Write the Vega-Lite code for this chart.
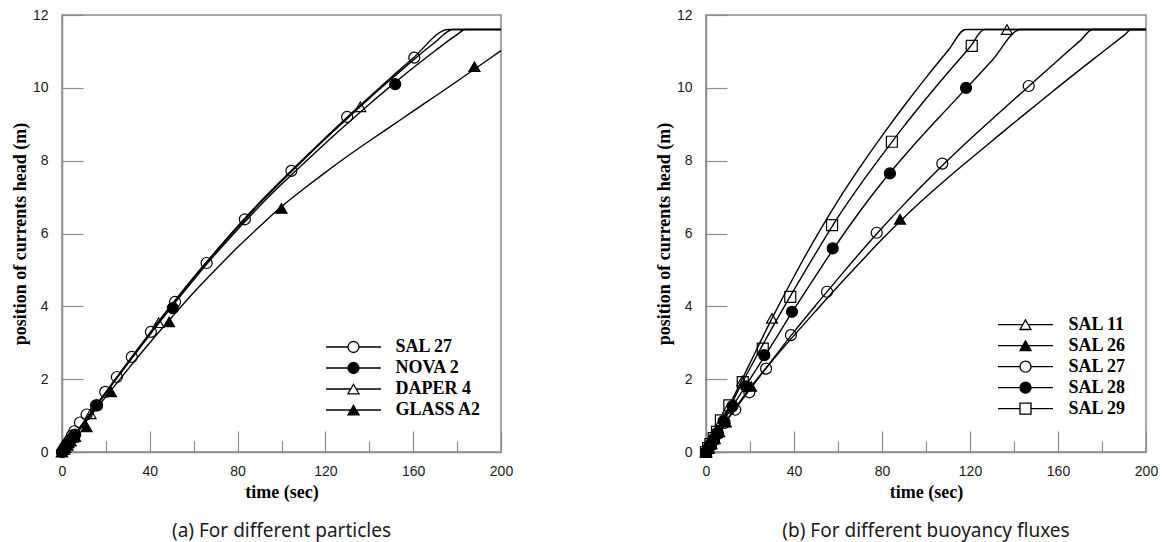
{
  "$schema": "https://vega.github.io/schema/vega-lite/v6.json",
  "background": "white",
  "padding": {"left": 10, "top": 7, "right": 5, "bottom": 0},
  "spacing": 140,
  "datasets": {
    "linesA": [
      {"series": "SAL 27", "t": 0, "y": 0}, {"series": "SAL 27", "t": 10, "y": 0.83}, {"series": "SAL 27", "t": 20, "y": 1.65}, {"series": "SAL 27", "t": 30, "y": 2.47}, {"series": "SAL 27", "t": 40, "y": 3.27}, {"series": "SAL 27", "t": 50, "y": 4.05}, {"series": "SAL 27", "t": 60, "y": 4.8}, {"series": "SAL 27", "t": 70, "y": 5.51}, {"series": "SAL 27", "t": 80, "y": 6.2}, {"series": "SAL 27", "t": 90, "y": 6.85}, {"series": "SAL 27", "t": 100, "y": 7.46}, {"series": "SAL 27", "t": 110, "y": 8.05}, {"series": "SAL 27", "t": 120, "y": 8.63}, {"series": "SAL 27", "t": 130, "y": 9.2}, {"series": "SAL 27", "t": 140, "y": 9.75}, {"series": "SAL 27", "t": 150, "y": 10.29}, {"series": "SAL 27", "t": 160, "y": 10.82}, {"series": "SAL 27", "t": 176, "y": 11.6}, {"series": "SAL 27", "t": 200, "y": 11.6},
      {"series": "DAPER 4", "t": 0, "y": 0}, {"series": "DAPER 4", "t": 10, "y": 0.82}, {"series": "DAPER 4", "t": 20, "y": 1.63}, {"series": "DAPER 4", "t": 30, "y": 2.45}, {"series": "DAPER 4", "t": 40, "y": 3.25}, {"series": "DAPER 4", "t": 50, "y": 4.03}, {"series": "DAPER 4", "t": 60, "y": 4.78}, {"series": "DAPER 4", "t": 70, "y": 5.49}, {"series": "DAPER 4", "t": 80, "y": 6.17}, {"series": "DAPER 4", "t": 90, "y": 6.82}, {"series": "DAPER 4", "t": 100, "y": 7.43}, {"series": "DAPER 4", "t": 110, "y": 8.02}, {"series": "DAPER 4", "t": 120, "y": 8.6}, {"series": "DAPER 4", "t": 130, "y": 9.16}, {"series": "DAPER 4", "t": 140, "y": 9.71}, {"series": "DAPER 4", "t": 150, "y": 10.24}, {"series": "DAPER 4", "t": 160, "y": 10.76}, {"series": "DAPER 4", "t": 170, "y": 11.25}, {"series": "DAPER 4", "t": 178, "y": 11.6}, {"series": "DAPER 4", "t": 200, "y": 11.6},
      {"series": "NOVA 2", "t": 0, "y": 0}, {"series": "NOVA 2", "t": 10, "y": 0.81}, {"series": "NOVA 2", "t": 20, "y": 1.62}, {"series": "NOVA 2", "t": 30, "y": 2.43}, {"series": "NOVA 2", "t": 40, "y": 3.22}, {"series": "NOVA 2", "t": 50, "y": 3.99}, {"series": "NOVA 2", "t": 60, "y": 4.73}, {"series": "NOVA 2", "t": 70, "y": 5.44}, {"series": "NOVA 2", "t": 80, "y": 6.11}, {"series": "NOVA 2", "t": 90, "y": 6.75}, {"series": "NOVA 2", "t": 100, "y": 7.35}, {"series": "NOVA 2", "t": 110, "y": 7.92}, {"series": "NOVA 2", "t": 120, "y": 8.48}, {"series": "NOVA 2", "t": 130, "y": 9.02}, {"series": "NOVA 2", "t": 140, "y": 9.55}, {"series": "NOVA 2", "t": 150, "y": 10.06}, {"series": "NOVA 2", "t": 160, "y": 10.55}, {"series": "NOVA 2", "t": 170, "y": 11.02}, {"series": "NOVA 2", "t": 180, "y": 11.46}, {"series": "NOVA 2", "t": 183.6, "y": 11.6}, {"series": "NOVA 2", "t": 200, "y": 11.6},
      {"series": "GLASS A2", "t": 0, "y": 0}, {"series": "GLASS A2", "t": 10, "y": 0.77}, {"series": "GLASS A2", "t": 20, "y": 1.52}, {"series": "GLASS A2", "t": 30, "y": 2.27}, {"series": "GLASS A2", "t": 40, "y": 3.0}, {"series": "GLASS A2", "t": 50, "y": 3.7}, {"series": "GLASS A2", "t": 60, "y": 4.38}, {"series": "GLASS A2", "t": 70, "y": 5.01}, {"series": "GLASS A2", "t": 80, "y": 5.62}, {"series": "GLASS A2", "t": 90, "y": 6.19}, {"series": "GLASS A2", "t": 100, "y": 6.74}, {"series": "GLASS A2", "t": 110, "y": 7.22}, {"series": "GLASS A2", "t": 120, "y": 7.68}, {"series": "GLASS A2", "t": 130, "y": 8.12}, {"series": "GLASS A2", "t": 140, "y": 8.54}, {"series": "GLASS A2", "t": 150, "y": 8.95}, {"series": "GLASS A2", "t": 160, "y": 9.36}, {"series": "GLASS A2", "t": 170, "y": 9.77}, {"series": "GLASS A2", "t": 180, "y": 10.18}, {"series": "GLASS A2", "t": 190, "y": 10.6}, {"series": "GLASS A2", "t": 200, "y": 11.02}
    ],
    "ptsA": [
      {"series": "SAL 27", "t": 0, "y": 0}, {"series": "SAL 27", "t": 0.7, "y": 0.07}, {"series": "SAL 27", "t": 1.5, "y": 0.15}, {"series": "SAL 27", "t": 2.5, "y": 0.24}, {"series": "SAL 27", "t": 3.5, "y": 0.33}, {"series": "SAL 27", "t": 4.5, "y": 0.45}, {"series": "SAL 27", "t": 5.6, "y": 0.57}, {"series": "SAL 27", "t": 8.2, "y": 0.81}, {"series": "SAL 27", "t": 11.2, "y": 1.03}, {"series": "SAL 27", "t": 15.5, "y": 1.28}, {"series": "SAL 27", "t": 19.7, "y": 1.65}, {"series": "SAL 27", "t": 25, "y": 2.06}, {"series": "SAL 27", "t": 31.8, "y": 2.61}, {"series": "SAL 27", "t": 40.5, "y": 3.3}, {"series": "SAL 27", "t": 51.5, "y": 4.12}, {"series": "SAL 27", "t": 65.9, "y": 5.19}, {"series": "SAL 27", "t": 83.3, "y": 6.39}, {"series": "SAL 27", "t": 104.5, "y": 7.72}, {"series": "SAL 27", "t": 129.9, "y": 9.2}, {"series": "SAL 27", "t": 160.5, "y": 10.83},
      {"series": "NOVA 2", "t": 0, "y": 0}, {"series": "NOVA 2", "t": 1, "y": 0.08}, {"series": "NOVA 2", "t": 2, "y": 0.17}, {"series": "NOVA 2", "t": 3, "y": 0.25}, {"series": "NOVA 2", "t": 4.5, "y": 0.37}, {"series": "NOVA 2", "t": 6, "y": 0.48}, {"series": "NOVA 2", "t": 16, "y": 1.28}, {"series": "NOVA 2", "t": 50.5, "y": 3.95}, {"series": "NOVA 2", "t": 151.8, "y": 10.1},
      {"series": "DAPER 4", "t": 0, "y": 0}, {"series": "DAPER 4", "t": 1.5, "y": 0.12}, {"series": "DAPER 4", "t": 3, "y": 0.25}, {"series": "DAPER 4", "t": 5, "y": 0.4}, {"series": "DAPER 4", "t": 13, "y": 1.05}, {"series": "DAPER 4", "t": 44, "y": 3.55}, {"series": "DAPER 4", "t": 135.9, "y": 9.48},
      {"series": "GLASS A2", "t": 0, "y": 0}, {"series": "GLASS A2", "t": 1, "y": 0.07}, {"series": "GLASS A2", "t": 2.5, "y": 0.18}, {"series": "GLASS A2", "t": 4, "y": 0.3}, {"series": "GLASS A2", "t": 6, "y": 0.42}, {"series": "GLASS A2", "t": 11.2, "y": 0.69}, {"series": "GLASS A2", "t": 22.3, "y": 1.65}, {"series": "GLASS A2", "t": 48.8, "y": 3.57}, {"series": "GLASS A2", "t": 100, "y": 6.69}, {"series": "GLASS A2", "t": 187.9, "y": 10.58}
    ],
    "linesB": [
      {"series": "SAL 11", "t": 0, "y": 0}, {"series": "SAL 11", "t": 10, "y": 1.2}, {"series": "SAL 11", "t": 20, "y": 2.44}, {"series": "SAL 11", "t": 30, "y": 3.67}, {"series": "SAL 11", "t": 40, "y": 4.82}, {"series": "SAL 11", "t": 50, "y": 5.9}, {"series": "SAL 11", "t": 60, "y": 6.9}, {"series": "SAL 11", "t": 70, "y": 7.82}, {"series": "SAL 11", "t": 80, "y": 8.68}, {"series": "SAL 11", "t": 90, "y": 9.5}, {"series": "SAL 11", "t": 100, "y": 10.28}, {"series": "SAL 11", "t": 110, "y": 11.02}, {"series": "SAL 11", "t": 118, "y": 11.6}, {"series": "SAL 11", "t": 200, "y": 11.6},
      {"series": "SAL 29", "t": 0, "y": 0}, {"series": "SAL 29", "t": 10, "y": 1.15}, {"series": "SAL 29", "t": 20, "y": 2.3}, {"series": "SAL 29", "t": 30, "y": 3.4}, {"series": "SAL 29", "t": 40, "y": 4.45}, {"series": "SAL 29", "t": 50, "y": 5.47}, {"series": "SAL 29", "t": 60, "y": 6.45}, {"series": "SAL 29", "t": 70, "y": 7.33}, {"series": "SAL 29", "t": 80, "y": 8.15}, {"series": "SAL 29", "t": 90, "y": 8.95}, {"series": "SAL 29", "t": 100, "y": 9.7}, {"series": "SAL 29", "t": 110, "y": 10.42}, {"series": "SAL 29", "t": 120, "y": 11.12}, {"series": "SAL 29", "t": 126.5, "y": 11.6}, {"series": "SAL 29", "t": 200, "y": 11.6},
      {"series": "SAL 28", "t": 0, "y": 0}, {"series": "SAL 28", "t": 10, "y": 1.05}, {"series": "SAL 28", "t": 20, "y": 2.0}, {"series": "SAL 28", "t": 30, "y": 2.95}, {"series": "SAL 28", "t": 40, "y": 3.92}, {"series": "SAL 28", "t": 50, "y": 4.85}, {"series": "SAL 28", "t": 60, "y": 5.76}, {"series": "SAL 28", "t": 70, "y": 6.61}, {"series": "SAL 28", "t": 80, "y": 7.4}, {"series": "SAL 28", "t": 90, "y": 8.12}, {"series": "SAL 28", "t": 100, "y": 8.8}, {"series": "SAL 28", "t": 110, "y": 9.45}, {"series": "SAL 28", "t": 120, "y": 10.1}, {"series": "SAL 28", "t": 130, "y": 10.75}, {"series": "SAL 28", "t": 143, "y": 11.6}, {"series": "SAL 28", "t": 200, "y": 11.6},
      {"series": "SAL 27", "t": 0, "y": 0}, {"series": "SAL 27", "t": 10, "y": 0.91}, {"series": "SAL 27", "t": 20, "y": 1.72}, {"series": "SAL 27", "t": 30, "y": 2.52}, {"series": "SAL 27", "t": 40, "y": 3.3}, {"series": "SAL 27", "t": 50, "y": 4.04}, {"series": "SAL 27", "t": 60, "y": 4.76}, {"series": "SAL 27", "t": 70, "y": 5.47}, {"series": "SAL 27", "t": 80, "y": 6.15}, {"series": "SAL 27", "t": 90, "y": 6.8}, {"series": "SAL 27", "t": 100, "y": 7.42}, {"series": "SAL 27", "t": 110, "y": 8.02}, {"series": "SAL 27", "t": 120, "y": 8.59}, {"series": "SAL 27", "t": 130, "y": 9.14}, {"series": "SAL 27", "t": 140, "y": 9.68}, {"series": "SAL 27", "t": 150, "y": 10.22}, {"series": "SAL 27", "t": 160, "y": 10.76}, {"series": "SAL 27", "t": 170, "y": 11.29}, {"series": "SAL 27", "t": 175.8, "y": 11.6}, {"series": "SAL 27", "t": 200, "y": 11.6},
      {"series": "SAL 26", "t": 0, "y": 0}, {"series": "SAL 26", "t": 10, "y": 0.92}, {"series": "SAL 26", "t": 20, "y": 1.76}, {"series": "SAL 26", "t": 30, "y": 2.5}, {"series": "SAL 26", "t": 40, "y": 3.2}, {"series": "SAL 26", "t": 50, "y": 3.88}, {"series": "SAL 26", "t": 60, "y": 4.55}, {"series": "SAL 26", "t": 70, "y": 5.2}, {"series": "SAL 26", "t": 80, "y": 5.84}, {"series": "SAL 26", "t": 90, "y": 6.44}, {"series": "SAL 26", "t": 100, "y": 7.0}, {"series": "SAL 26", "t": 110, "y": 7.53}, {"series": "SAL 26", "t": 120, "y": 8.04}, {"series": "SAL 26", "t": 130, "y": 8.54}, {"series": "SAL 26", "t": 140, "y": 9.04}, {"series": "SAL 26", "t": 150, "y": 9.53}, {"series": "SAL 26", "t": 160, "y": 10.02}, {"series": "SAL 26", "t": 170, "y": 10.5}, {"series": "SAL 26", "t": 180, "y": 10.97}, {"series": "SAL 26", "t": 190, "y": 11.44}, {"series": "SAL 26", "t": 193.4, "y": 11.6}, {"series": "SAL 26", "t": 200, "y": 11.6}
    ],
    "ptsB": [
      {"series": "SAL 11", "t": 0, "y": 0}, {"series": "SAL 11", "t": 1, "y": 0.12}, {"series": "SAL 11", "t": 2, "y": 0.24}, {"series": "SAL 11", "t": 3.5, "y": 0.42}, {"series": "SAL 11", "t": 5, "y": 0.6}, {"series": "SAL 11", "t": 7, "y": 0.85}, {"series": "SAL 11", "t": 10, "y": 1.2}, {"series": "SAL 11", "t": 16.5, "y": 1.95}, {"series": "SAL 11", "t": 30, "y": 3.67}, {"series": "SAL 11", "t": 136.8, "y": 11.6},
      {"series": "SAL 26", "t": 0, "y": 0}, {"series": "SAL 26", "t": 1.2, "y": 0.1}, {"series": "SAL 26", "t": 2.5, "y": 0.22}, {"series": "SAL 26", "t": 4, "y": 0.36}, {"series": "SAL 26", "t": 6, "y": 0.55}, {"series": "SAL 26", "t": 9, "y": 0.82}, {"series": "SAL 26", "t": 20.5, "y": 1.8}, {"series": "SAL 26", "t": 88.2, "y": 6.39},
      {"series": "SAL 27", "t": 0, "y": 0}, {"series": "SAL 27", "t": 1, "y": 0.09}, {"series": "SAL 27", "t": 2.2, "y": 0.2}, {"series": "SAL 27", "t": 3.5, "y": 0.32}, {"series": "SAL 27", "t": 5.5, "y": 0.5}, {"series": "SAL 27", "t": 8.5, "y": 0.8}, {"series": "SAL 27", "t": 13.3, "y": 1.16}, {"series": "SAL 27", "t": 19.7, "y": 1.64}, {"series": "SAL 27", "t": 27.3, "y": 2.29}, {"series": "SAL 27", "t": 38.6, "y": 3.21}, {"series": "SAL 27", "t": 55, "y": 4.4}, {"series": "SAL 27", "t": 77.6, "y": 6.02}, {"series": "SAL 27", "t": 107.4, "y": 7.92}, {"series": "SAL 27", "t": 146.7, "y": 10.05},
      {"series": "SAL 28", "t": 0, "y": 0}, {"series": "SAL 28", "t": 1, "y": 0.1}, {"series": "SAL 28", "t": 2, "y": 0.2}, {"series": "SAL 28", "t": 3.5, "y": 0.36}, {"series": "SAL 28", "t": 5, "y": 0.52}, {"series": "SAL 28", "t": 8, "y": 0.85}, {"series": "SAL 28", "t": 12.1, "y": 1.26}, {"series": "SAL 28", "t": 18.2, "y": 1.8}, {"series": "SAL 28", "t": 26.5, "y": 2.66}, {"series": "SAL 28", "t": 39.1, "y": 3.85}, {"series": "SAL 28", "t": 57.6, "y": 5.59}, {"series": "SAL 28", "t": 83.6, "y": 7.65}, {"series": "SAL 28", "t": 118.2, "y": 10.0},
      {"series": "SAL 29", "t": 0, "y": 0}, {"series": "SAL 29", "t": 1, "y": 0.11}, {"series": "SAL 29", "t": 2, "y": 0.22}, {"series": "SAL 29", "t": 3.5, "y": 0.38}, {"series": "SAL 29", "t": 5, "y": 0.55}, {"series": "SAL 29", "t": 6.8, "y": 0.87}, {"series": "SAL 29", "t": 10.6, "y": 1.28}, {"series": "SAL 29", "t": 16.7, "y": 1.92}, {"series": "SAL 29", "t": 25.8, "y": 2.84}, {"series": "SAL 29", "t": 38.3, "y": 4.26}, {"series": "SAL 29", "t": 57.3, "y": 6.23}, {"series": "SAL 29", "t": 84.5, "y": 8.52}, {"series": "SAL 29", "t": 120.8, "y": 11.15}
    ]
  },
  "hconcat": [
    {
      "width": 439,
      "height": 437,
      "title": {"text": "(a) For different particles", "orient": "bottom", "offset": 21},
      "layer": [
        {
          "data": {"name": "linesA"},
          "mark": {"type": "line", "color": "black", "strokeWidth": 1.4, "interpolate": "monotone"},
          "encoding": {
            "x": {"field": "t", "type": "quantitative", "scale": {"domain": [0, 200], "nice": false},
              "axis": {"title": "time (sec)", "values": [0, 20, 40, 60, 80, 100, 120, 140, 160, 180, 200], "labelExpr": "datum.value % 40 === 0 ? datum.label : ''", "tickSize": {"condition": {"test": "datum.value % 40 === 0", "value": -21}, "value": -11}, "labelPadding": 33, "titlePadding": -5}},
            "y": {"field": "y", "type": "quantitative", "scale": {"domain": [0, 12], "nice": false},
              "axis": {"title": "position of currents head (m)", "values": [0, 1, 2, 3, 4, 5, 6, 7, 8, 9, 10, 11, 12], "labelExpr": "datum.value % 2 === 0 ? datum.label : ''", "tickSize": {"condition": {"test": "datum.value % 2 === 0", "value": -21}, "value": -11}, "labelPadding": 35, "titlePadding": 3}},
            "detail": {"field": "series", "type": "nominal"}
          }
        },
        {
          "data": {"name": "ptsA"},
          "mark": {"type": "point", "stroke": "black", "strokeWidth": 1.2, "size": 121, "opacity": 1},
          "encoding": {
            "x": {"field": "t", "type": "quantitative"},
            "y": {"field": "y", "type": "quantitative"},
            "shape": {"field": "series", "type": "nominal", "scale": {"domain": ["SAL 27", "NOVA 2", "DAPER 4", "GLASS A2"], "range": ["circle", "circle", "triangle-up", "triangle-up"]}, "legend": null},
            "fill": {"field": "series", "type": "nominal", "scale": {"domain": ["SAL 27", "NOVA 2", "DAPER 4", "GLASS A2"], "range": ["transparent", "black", "transparent", "black"]}, "legend": null}
          }
        },
        {
          "data": {"name": "ptsA"},
          "transform": [{"filter": "false"}],
          "mark": {"type": "point", "strokeWidth": 1.2, "size": 121, "opacity": 1},
          "encoding": {
            "x": {"field": "t", "type": "quantitative"},
            "y": {"field": "y", "type": "quantitative"},
            "shape": {"field": "series", "type": "nominal", "scale": {"domain": ["SAL 27", "NOVA 2", "DAPER 4", "GLASS A2"], "range": ["M-5,0H-1M1,0H5M1,0A1,1,0,1,1,-1,0A1,1,0,1,1,1,0Z", "M-5,0H-1M1,0H5M1,0A1,1,0,1,1,-1,0A1,1,0,1,1,1,0Z", "M-5,0H-0.5M0.5,0H5M0,-0.87L1,0.87L-1,0.87Z", "M-5,0H-0.5M0.5,0H5M0,-0.87L1,0.87L-1,0.87Z"]},
              "legend": {"title": null, "orient": "none", "legendX": 282.5, "legendY": 323, "padding": 0, "symbolSize": 121, "symbolStrokeWidth": 1.3, "symbolOpacity": 1, "labelFont": "Liberation Serif", "labelFontWeight": "bold", "labelFontSize": 18, "labelColor": "black", "labelOffset": 33, "rowPadding": 3, "labelLimit": 300}},
            "fill": {"field": "series", "type": "nominal", "scale": {"domain": ["SAL 27", "NOVA 2", "DAPER 4", "GLASS A2"], "range": ["white", "black", "white", "black"]},
              "legend": {"title": null, "orient": "none", "legendX": 282.5, "legendY": 323, "padding": 0, "symbolSize": 121, "symbolStrokeWidth": 1.3, "symbolOpacity": 1, "labelFont": "Liberation Serif", "labelFontWeight": "bold", "labelFontSize": 18, "labelColor": "black", "labelOffset": 33, "rowPadding": 3, "labelLimit": 300}},
            "stroke": {"field": "series", "type": "nominal", "scale": {"domain": ["SAL 27", "NOVA 2", "DAPER 4", "GLASS A2"], "range": ["black", "black", "black", "black"]},
              "legend": {"title": null, "orient": "none", "legendX": 282.5, "legendY": 323, "padding": 0, "symbolSize": 121, "symbolStrokeWidth": 1.3, "symbolOpacity": 1, "labelFont": "Liberation Serif", "labelFontWeight": "bold", "labelFontSize": 18, "labelColor": "black", "labelOffset": 33, "rowPadding": 3, "labelLimit": 300}}
          }
        }
      ],
      "resolve": {"scale": {"shape": "independent", "fill": "independent", "stroke": "independent"}}
    },
    {
      "width": 440,
      "height": 437,
      "title": {"text": "(b) For different buoyancy fluxes", "orient": "bottom", "offset": 21},
      "layer": [
        {
          "data": {"name": "linesB"},
          "mark": {"type": "line", "color": "black", "strokeWidth": 1.4, "interpolate": "monotone"},
          "encoding": {
            "x": {"field": "t", "type": "quantitative", "scale": {"domain": [0, 200], "nice": false},
              "axis": {"title": "time (sec)", "values": [0, 20, 40, 60, 80, 100, 120, 140, 160, 180, 200], "labelExpr": "datum.value % 40 === 0 ? datum.label : ''", "tickSize": {"condition": {"test": "datum.value % 40 === 0", "value": -21}, "value": -11}, "labelPadding": 33, "titlePadding": -5}},
            "y": {"field": "y", "type": "quantitative", "scale": {"domain": [0, 12], "nice": false},
              "axis": {"title": "position of currents head (m)", "values": [0, 1, 2, 3, 4, 5, 6, 7, 8, 9, 10, 11, 12], "labelExpr": "datum.value % 2 === 0 ? datum.label : ''", "tickSize": {"condition": {"test": "datum.value % 2 === 0", "value": -21}, "value": -11}, "labelPadding": 35, "titlePadding": 3}},
            "detail": {"field": "series", "type": "nominal"}
          }
        },
        {
          "data": {"name": "ptsB"},
          "mark": {"type": "point", "stroke": "black", "strokeWidth": 1.2, "size": 121, "opacity": 1},
          "encoding": {
            "x": {"field": "t", "type": "quantitative"},
            "y": {"field": "y", "type": "quantitative"},
            "shape": {"field": "series", "type": "nominal", "scale": {"domain": ["SAL 11", "SAL 26", "SAL 27", "SAL 28", "SAL 29"], "range": ["triangle-up", "triangle-up", "circle", "circle", "square"]}, "legend": null},
            "fill": {"field": "series", "type": "nominal", "scale": {"domain": ["SAL 11", "SAL 26", "SAL 27", "SAL 28", "SAL 29"], "range": ["transparent", "black", "transparent", "black", "transparent"]}, "legend": null}
          }
        },
        {
          "data": {"name": "ptsB"},
          "transform": [{"filter": "false"}],
          "mark": {"type": "point", "strokeWidth": 1.2, "size": 121, "opacity": 1},
          "encoding": {
            "x": {"field": "t", "type": "quantitative"},
            "y": {"field": "y", "type": "quantitative"},
            "shape": {"field": "series", "type": "nominal", "scale": {"domain": ["SAL 11", "SAL 26", "SAL 27", "SAL 28", "SAL 29"], "range": ["M-5,0H-0.5M0.5,0H5M0,-0.87L1,0.87L-1,0.87Z", "M-5,0H-0.5M0.5,0H5M0,-0.87L1,0.87L-1,0.87Z", "M-5,0H-1M1,0H5M1,0A1,1,0,1,1,-1,0A1,1,0,1,1,1,0Z", "M-5,0H-1M1,0H5M1,0A1,1,0,1,1,-1,0A1,1,0,1,1,1,0Z", "M-5,0H-1M1,0H5M-1,-1H1V1H-1Z"]},
              "legend": {"title": null, "orient": "none", "legendX": 310.5, "legendY": 300.7, "padding": 0, "symbolSize": 121, "symbolStrokeWidth": 1.3, "symbolOpacity": 1, "labelFont": "Liberation Serif", "labelFontWeight": "bold", "labelFontSize": 18, "labelColor": "black", "labelOffset": 34, "rowPadding": 3, "labelLimit": 300}},
            "fill": {"field": "series", "type": "nominal", "scale": {"domain": ["SAL 11", "SAL 26", "SAL 27", "SAL 28", "SAL 29"], "range": ["white", "black", "white", "black", "white"]},
              "legend": {"title": null, "orient": "none", "legendX": 310.5, "legendY": 300.7, "padding": 0, "symbolSize": 121, "symbolStrokeWidth": 1.3, "symbolOpacity": 1, "labelFont": "Liberation Serif", "labelFontWeight": "bold", "labelFontSize": 18, "labelColor": "black", "labelOffset": 34, "rowPadding": 3, "labelLimit": 300}},
            "stroke": {"field": "series", "type": "nominal", "scale": {"domain": ["SAL 11", "SAL 26", "SAL 27", "SAL 28", "SAL 29"], "range": ["black", "black", "black", "black", "black"]},
              "legend": {"title": null, "orient": "none", "legendX": 310.5, "legendY": 300.7, "padding": 0, "symbolSize": 121, "symbolStrokeWidth": 1.3, "symbolOpacity": 1, "labelFont": "Liberation Serif", "labelFontWeight": "bold", "labelFontSize": 18, "labelColor": "black", "labelOffset": 34, "rowPadding": 3, "labelLimit": 300}}
          }
        }
      ],
      "resolve": {"scale": {"shape": "independent", "fill": "independent", "stroke": "independent"}}
    }
  ],
  "resolve": {"scale": {"x": "independent", "y": "independent", "shape": "independent", "fill": "independent", "stroke": "independent"}, "legend": {"shape": "independent", "fill": "independent", "stroke": "independent"}},
  "config": {
    "view": {"stroke": "#8c8c8c", "strokeWidth": 1.5},
    "axis": {"domainColor": "#8c8c8c", "domainWidth": 1.5, "tickColor": "#8c8c8c", "tickWidth": 1.2, "grid": false, "labelFont": "Liberation Sans", "labelFontSize": 14, "labelColor": "#1a1a1a", "labelFlush": false, "labelOverlap": false, "titleFont": "Liberation Serif", "titleFontWeight": "bold", "titleFontSize": 18, "titleColor": "black"},
    "title": {"font": "Noto Sans", "fontSize": 19, "fontWeight": "normal", "color": "#1a1a1a", "anchor": "middle"}
  }
}
